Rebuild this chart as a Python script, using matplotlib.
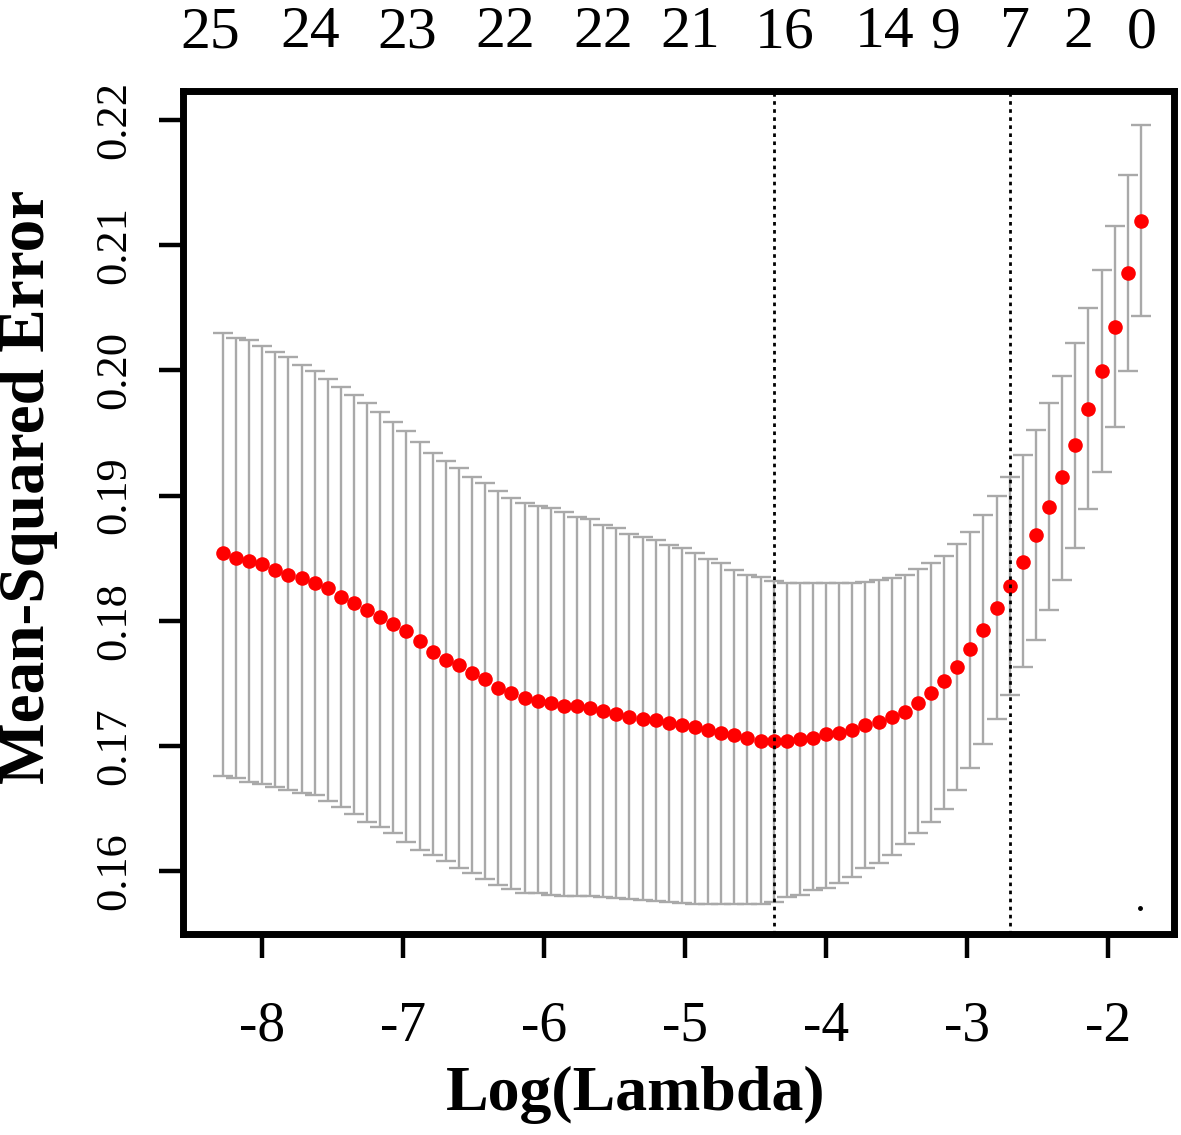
import matplotlib
matplotlib.use("Agg")
import matplotlib.pyplot as plt
import numpy as np

plt.rcParams["font.family"] = ["Liberation Serif", "DejaVu Serif"]
plt.rcParams["axes.unicode_minus"] = False

# ---- data -----------------------------------------------------------------
log_lambda = [
    -8.277, -8.184, -8.091, -7.998, -7.905, -7.812, -7.719, -7.626, -7.533, -7.440,
    -7.347, -7.254, -7.161, -7.068, -6.975, -6.882, -6.789, -6.696, -6.603, -6.510,
    -6.417, -6.324, -6.231, -6.138, -6.045, -5.952, -5.859, -5.766, -5.673, -5.580,
    -5.487, -5.394, -5.301, -5.208, -5.115, -5.022, -4.929, -4.836, -4.743, -4.650,
    -4.557, -4.464, -4.371, -4.278, -4.185, -4.092, -3.999, -3.906, -3.813, -3.720,
    -3.627, -3.534, -3.441, -3.348, -3.255, -3.162, -3.069, -2.976, -2.883, -2.790,
    -2.697, -2.604, -2.511, -2.418, -2.325, -2.232, -2.139, -2.046, -1.953, -1.860,
    -1.767,
]
cvm = [
    0.18544, 0.18499, 0.18478, 0.18454, 0.18406, 0.18366, 0.18344, 0.18300, 0.18260, 0.18193,
    0.18145, 0.18086, 0.18028, 0.17975, 0.17919, 0.17841, 0.17753, 0.17687, 0.17647, 0.17581,
    0.17533, 0.17466, 0.17426, 0.17381, 0.17359, 0.17341, 0.17320, 0.17316, 0.17301, 0.17282,
    0.17256, 0.17229, 0.17216, 0.17208, 0.17186, 0.17168, 0.17149, 0.17128, 0.17106, 0.17088,
    0.17062, 0.17040, 0.17036, 0.17040, 0.17056, 0.17062, 0.17096, 0.17106, 0.17128, 0.17168,
    0.17194, 0.17234, 0.17274, 0.17344, 0.17427, 0.17518, 0.17627, 0.17775, 0.17927, 0.18105,
    0.18278, 0.18472, 0.18689, 0.18909, 0.19149, 0.19408, 0.19692, 0.19998, 0.20347, 0.20780,
    0.21196,
]
cvup = [
    0.20301, 0.20256, 0.20243, 0.20197, 0.20149, 0.20105, 0.20043, 0.19995, 0.19929, 0.19865,
    0.19804, 0.19737, 0.19670, 0.19586, 0.19518, 0.19431, 0.19343, 0.19279, 0.19218, 0.19151,
    0.19098, 0.19037, 0.18978, 0.18939, 0.18919, 0.18903, 0.18871, 0.18831, 0.18811, 0.18765,
    0.18739, 0.18693, 0.18672, 0.18645, 0.18606, 0.18579, 0.18539, 0.18494, 0.18459, 0.18406,
    0.18366, 0.18347, 0.18320, 0.18300, 0.18300, 0.18300, 0.18300, 0.18300, 0.18304, 0.18312,
    0.18326, 0.18340, 0.18366, 0.18410, 0.18458, 0.18518, 0.18610, 0.18712, 0.18845, 0.18997,
    0.19151, 0.19324, 0.19524, 0.19742, 0.19955, 0.20217, 0.20496, 0.20802, 0.21153, 0.21561,
    0.21960,
]
cvlo = [
    0.16760, 0.16742, 0.16715, 0.16697, 0.16675, 0.16649, 0.16627, 0.16609, 0.16561, 0.16515,
    0.16457, 0.16395, 0.16351, 0.16303, 0.16236, 0.16169, 0.16129, 0.16084, 0.16023, 0.15983,
    0.15935, 0.15890, 0.15855, 0.15828, 0.15824, 0.15810, 0.15802, 0.15802, 0.15802, 0.15792,
    0.15784, 0.15776, 0.15770, 0.15764, 0.15756, 0.15744, 0.15738, 0.15738, 0.15738, 0.15738,
    0.15738, 0.15738, 0.15756, 0.15792, 0.15810, 0.15850, 0.15868, 0.15908, 0.15956, 0.16023,
    0.16063, 0.16129, 0.16217, 0.16303, 0.16389, 0.16495, 0.16649, 0.16828, 0.17016, 0.17216,
    0.17407, 0.17629, 0.17847, 0.18086, 0.18326, 0.18584, 0.18891, 0.19191, 0.19546, 0.19998,
    0.20435,
]

# number of non-zero coefficients shown on the top axis
top_pos = [-8.369, -7.660, -6.972, -6.277, -5.582, -4.965, -4.291, -3.582, -3.156, -2.660, -2.213, -1.759]
top_labels = ["25", "24", "23", "22", "22", "21", "16", "14", "9", "7", "2", "0"]

x_ticks = [-8, -7, -6, -5, -4, -3, -2]
y_ticks = [0.16, 0.17, 0.18, 0.19, 0.20, 0.21, 0.22]

stray_dot = ([-1.773], [0.15704])

# ---- derived --------------------------------------------------------------
x = np.array(log_lambda)
m = np.array(cvm)
up = np.array(cvup)
lo = np.array(cvlo)

i_min = int(np.argmin(m))
se_min = (up[i_min] - lo[i_min]) / 2
i_1se = int(np.max(np.where(m <= m[i_min] + se_min)[0]))

# ---- plot -----------------------------------------------------------------
W, H = 1181, 1135
fig = plt.figure(figsize=(W / 100, H / 100), dpi=100)
ax = fig.add_axes([183 / W, 1 - 934 / H, (1174 - 183) / W, (934 - 91) / H])

ax.errorbar(x, m, yerr=[m - lo, up - m], fmt="none", ecolor="#a9a9a9",
            elinewidth=1.7, capsize=7, capthick=1.7, zorder=2)
ax.plot(x, m, "o", color="red", ms=10.5, mec="none", zorder=3)
for i in (i_min, i_1se):
    ax.axvline(x[i], color="black", lw=2.0, ls=(0, (1.3, 1.6)), zorder=4)
ax.plot(*stray_dot, "o", color="black", ms=2.5, zorder=4)

ax.set_xlim(-8.560, -1.532)
ax.set_ylim(0.15498, 0.22232)

ax.set_xticks(x_ticks)
ax.set_xticklabels([str(v) for v in x_ticks])
ax.set_yticks(y_ticks)
ax.set_yticklabels([f"{v:.2f}" for v in y_ticks])
ax.tick_params(axis="x", length=17, width=3.2, labelsize=40, pad=31)
ax.tick_params(axis="y", length=17, width=3.2, labelsize=32, pad=18,
               labelrotation=90)
for lab in ax.get_yticklabels():
    lab.set_va("center")

for s in ax.spines.values():
    s.set_linewidth(5)

ax2 = ax.twiny()
ax2.set_xlim(ax.get_xlim())
ax2.set_xticks(top_pos)
ax2.set_xticklabels(top_labels)
ax2.tick_params(axis="x", length=0, labelsize=43, pad=22)
for s in ax2.spines.values():
    s.set_visible(False)

fig.text(636 / W, 1 - 1095 / H, "Log(Lambda)", fontsize=46, fontweight="bold",
         ha="center", va="center")
fig.text(28 / W, 1 - 487 / H, "Mean-Squared Error", fontsize=47, fontweight="bold",
         ha="center", va="center", rotation=90)

fig.savefig("out.png", dpi=100)
